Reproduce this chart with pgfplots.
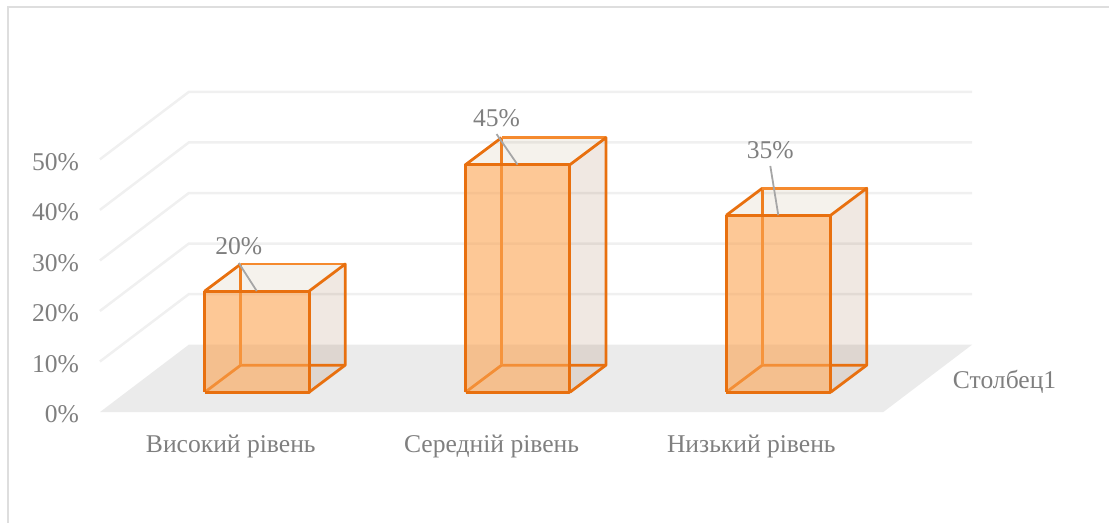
\documentclass[border=0pt]{standalone}
\usepackage{pgfplots}
\pgfplotsset{compat=1.18}
\usepackage{fontspec}
\setmainfont{Liberation Serif}
\definecolor{edge}{HTML}{E8700F}
\definecolor{hidden}{HTML}{EF7F20}
\definecolor{backtop}{HTML}{F58A2E}
\definecolor{frontc}{HTML}{FBA350}
\definecolor{sidec}{RGB}{130,63,13}
\definecolor{topc}{RGB}{130,92,17}
\definecolor{txt}{HTML}{7F7F7F}
\definecolor{gridc}{HTML}{F0F0F0}
\definecolor{floorc}{HTML}{EBEBEB}
\definecolor{lead}{HTML}{A6A6A6}
% #1 left x of the front face, #2 value in percent
\newcommand{\barbox}[2]{%
  \pgfmathsetmacro\xa{#1}\pgfmathsetmacro\xb{#1+104.5}%
  \pgfmathsetmacro\xc{#1+36}\pgfmathsetmacro\xd{#1+140.5}%
  \pgfmathsetmacro\ya{3.95}\pgfmathsetmacro\yb{#2+3.95}%
  \pgfmathsetmacro\yc{3.95+5.34}\pgfmathsetmacro\yd{#2+3.95+5.34}%
  \edef\temp{%
  \noexpand\addplot[forget plot,draw=none,fill=topc,fill opacity=.08] coordinates {(\xa,\yb)(\xb,\yb)(\xd,\yd)(\xc,\yd)(\xa,\yb)};
  \noexpand\addplot[forget plot,draw=none,fill=sidec,fill opacity=.12] coordinates {(\xb,\ya)(\xd,\yc)(\xd,\yd)(\xb,\yb)(\xb,\ya)};
  \noexpand\addplot[forget plot,edge,line width=2.8pt,line join=round] coordinates {(\xa,\ya)(\xc,\yc)(\xd,\yc)};
  \noexpand\addplot[forget plot,hidden,line width=2.8pt] coordinates {(\xc,\yc)(\xc,\yd)};
  \noexpand\addplot[forget plot,edge,line width=2.8pt,line join=round] coordinates {(\xa,\yb)(\xc,\yd)};
  \noexpand\addplot[forget plot,backtop,line width=2.8pt,line join=round] coordinates {(\xc,\yd)(\xd,\yd)};
  \noexpand\addplot[forget plot,edge,line width=2.8pt,line join=round] coordinates {(\xb,\yb)(\xd,\yd)(\xd,\yc)(\xb,\ya)};
  \noexpand\addplot[forget plot,draw=none,fill=frontc,fill opacity=.6] coordinates {(\xa,\ya)(\xb,\ya)(\xb,\yb)(\xa,\yb)(\xa,\ya)};
  \noexpand\addplot[forget plot,edge,line width=3pt,line join=round] coordinates {(\xa,\ya)(\xb,\ya)(\xb,\yb)(\xa,\yb)(\xa,\ya)};
  }\temp
}
\newcommand{\gridl}[1]{%
  \pgfmathsetmacro\gy{#1+13.34}%
  \edef\temp{\noexpand\addplot[forget plot,gridc,line width=2.5pt] coordinates {(100,#1)(189,\gy)(973,\gy)};}\temp
}
\begin{document}
\begin{tikzpicture}
\begin{axis}[
  x=1pt, y=5.06pt,
  xmin=100, xmax=973, ymin=0, ymax=63.54,
  clip=false,
  axis line style={draw=none},
  major tick length=0pt,
  tick style={draw=none},
  ytick={0,10,20,30,40,50},
  yticklabels={0\%,10\%,20\%,30\%,40\%,50\%},
  xtick={231,492,752},
  xticklabels={Високий рівень,Середній рівень,Низький рівень},
  tick label style={font=\fontsize{25.6}{30}\selectfont,text=txt,inner sep=0pt,outer sep=0pt},
  yticklabel style={anchor=east,xshift=-21pt,yshift=-2.5pt},
  xticklabel style={anchor=base,yshift=-40pt},
  xtick pos=lower, ytick pos=left,
]
\path (axis cs:0,-21.84) rectangle (axis cs:1110,81.52);
\draw[color=black!13,line width=2pt] (axis cs:8.5,-21.84) -- (axis cs:8.5,80.04) -- (axis cs:1110,80.04);
\gridl{10}\gridl{20}\gridl{30}\gridl{40}\gridl{50}
\addplot[forget plot,draw=none,fill=floorc] coordinates {(100,0)(884,0)(973,13.34)(189,13.34)(100,0)};
\barbox{205}{20}
\barbox{466}{45}
\barbox{727}{35}
\addplot[forget plot,lead,line width=1.8pt] coordinates {(239,29.5)(257,23.95)};
\addplot[forget plot,lead,line width=1.8pt] coordinates {(497,55)(518,48.95)};
\addplot[forget plot,lead,line width=1.8pt] coordinates {(771,48.7)(779,38.95)};
\node[font=\fontsize{25.6}{30}\selectfont,text=txt,inner sep=0pt] at (axis cs:239,32.8) {20\%};
\node[font=\fontsize{25.6}{30}\selectfont,text=txt,inner sep=0pt] at (axis cs:497,58.2) {45\%};
\node[font=\fontsize{25.6}{30}\selectfont,text=txt,inner sep=0pt] at (axis cs:771,51.9) {35\%};
\node[font=\fontsize{25.6}{30}\selectfont,text=txt,inner sep=0pt] at (axis cs:1005.5,6.0) {Столбец1};
\end{axis}
\end{tikzpicture}
\end{document}
